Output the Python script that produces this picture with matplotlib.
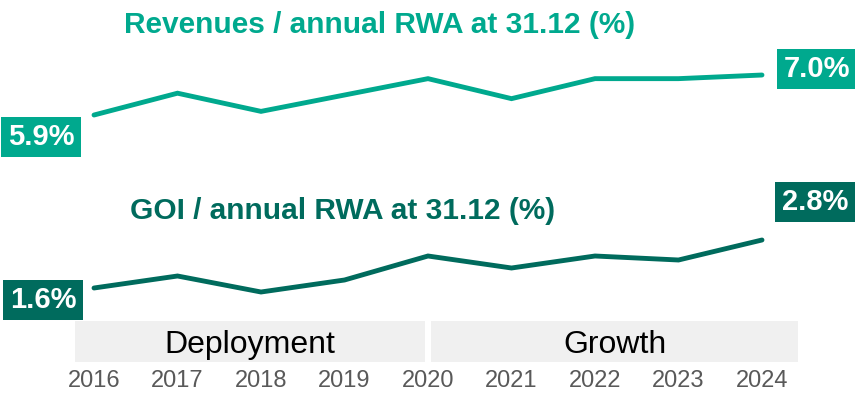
import matplotlib
matplotlib.use("Agg")
import matplotlib.pyplot as plt
import matplotlib.transforms as mtransforms

plt.rcParams['font.family'] = ['Liberation Sans', 'DejaVu Sans']

years = [2016, 2017, 2018, 2019, 2020, 2021, 2022, 2023, 2024]
revenues_rwa = [5.9, 6.5, 6.0, 6.45, 6.9, 6.35, 6.9, 6.9, 7.0]
goi_rwa = [1.6, 1.9, 1.5, 1.8, 2.4, 2.1, 2.4, 2.3, 2.8]
phases = ["Deployment", "Growth"]
phase_spans = [(2015.77, 2019.96), (2020.04, 2024.43)]

light = "#00A98E"
dark = "#006B5D"

fig = plt.figure(figsize=(8.55, 3.93), dpi=100)
ax = fig.add_axes([0, 0, 1, 1])
ax2 = ax.twinx()
for a in (ax, ax2):
    a.set_xlim(2014.874, 2025.114)
    a.axis("off")
ax.set_ylim(-1.745, 9.063)
ax2.set_ylim(-1.025, 8.8)

ax.plot(years, revenues_rwa, color=light, lw=3.5, solid_capstyle="round", solid_joinstyle="miter")
ax2.plot(years, goi_rwa, color=dark, lw=3.5, solid_capstyle="round", solid_joinstyle="miter")

def tag(a, x, y, color, dx, dy):
    a.annotate("%.1f%%" % y, xy=(x, y), xytext=(dx, dy), textcoords="offset pixels",
               ha="center", va="center", color="white", fontsize=21, fontweight="bold",
               bbox=dict(boxstyle="square,pad=0.22", fc=color, ec="none"))

tag(ax, years[0], revenues_rwa[0], light, -53, -22)
tag(ax, years[-1], revenues_rwa[-1], light, 55, 6)
tag(ax2, years[0], goi_rwa[0], dark, -51, -12)
tag(ax2, years[-1], goi_rwa[-1], dark, 53, 38)

fig.text(380 / 855, 0.916, "Revenues / annual RWA at 31.12 (%)", ha="center", va="baseline",
         color=light, fontsize=21.5, fontweight="bold")
fig.text(343 / 855, 0.443, "GOI / annual RWA at 31.12 (%)", ha="center", va="baseline",
         color=dark, fontsize=21.5, fontweight="bold")

# phase bands
trans = mtransforms.blended_transform_factory(ax.transData, ax.transAxes)
for name, (x0, x1) in zip(phases, phase_spans):
    ax.add_patch(plt.Rectangle((x0, 0.079), x1 - x0, 0.104, transform=trans,
                               fc="#F0F0F0", ec="none", zorder=0))
fig.text(250 / 855, 0.101, phases[0], ha="center", va="baseline", fontsize=23, color="black")
fig.text(615 / 855, 0.101, phases[1], ha="center", va="baseline", fontsize=23, color="black")

for y in years:
    ax.text(y, 0.015, str(y), transform=trans, ha="center", va="baseline",
            fontsize=17, color="#595959")

fig.savefig("out.png", dpi=100)
